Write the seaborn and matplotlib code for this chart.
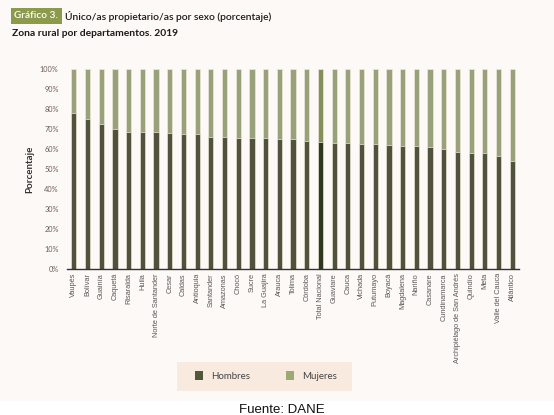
import numpy as np
import pandas as pd
import seaborn as sns
import matplotlib.pyplot as plt
from matplotlib.patches import Rectangle, Patch
from matplotlib.ticker import PercentFormatter

departamentos = ['Vaupés', 'Bolívar', 'Guainía', 'Caquetá', 'Risaralda', 'Huila',
                 'Norte de Santander', 'Cesar', 'Caldas', 'Antioquia', 'Santander',
                 'Amazonas', 'Chocó', 'Sucre', 'La Guajira', 'Arauca', 'Tolima',
                 'Córdoba', 'Total Nacional', 'Guaviare', 'Cauca', 'Vichada',
                 'Putumayo', 'Boyacá', 'Magdalena', 'Nariño', 'Casanare',
                 'Cundinamarca', 'Archipiélago de San Andrés', 'Quindío', 'Meta',
                 'Valle del Cauca', 'Atlántico']
hombres = [78.3, 75.0, 72.8, 70.2, 68.8, 68.5, 68.5, 68.0, 67.5, 67.5, 66.3,
           66.2, 65.8, 65.8, 65.5, 65.3, 64.9, 64.2, 63.7, 63.2, 63.2, 62.8,
           62.5, 62.3, 61.8, 61.8, 61.0, 60.2, 58.8, 58.3, 58.0, 56.6, 54.3]
mujeres = [100 - h for h in hombres]

df = pd.DataFrame({'dep': departamentos, 'Hombres': hombres, 'Mujeres': mujeres})
df['total'] = df['Hombres'] + df['Mujeres']

c_h, c_m = '#545639', '#9da873'
c_h_tot, c_m_tot = '#323b1d', '#8a9850'
pal_h = [c_h_tot if d == 'Total Nacional' else c_h for d in departamentos]
pal_m = [c_m_tot if d == 'Total Nacional' else c_m for d in departamentos]

bg = '#fdf9f6'
sns.set_style('white')
plt.rcParams['font.family'] = ['Lato', 'DejaVu Sans']

fig = plt.figure(figsize=(5.54, 4.15), dpi=100, facecolor=bg)
ax = fig.add_axes([0.121, 0.352, 0.816, 0.481])
ax.set_facecolor(bg)

# stacked: total (mujeres on top) first, then hombres
sns.barplot(data=df, x='dep', y='total', hue='dep', palette=pal_m, legend=False,
            width=0.38, edgecolor='#ece8dc', linewidth=0.5, ax=ax)
sns.barplot(data=df, x='dep', y='Hombres', hue='dep', palette=pal_h, legend=False,
            width=0.38, edgecolor='#ece8dc', linewidth=0.5, ax=ax)

ax.set_ylim(0, 100)
ax.set_xlim(-0.5, len(departamentos) - 0.5)
ax.set_yticks(np.arange(0, 101, 10))
ax.yaxis.set_major_formatter(PercentFormatter(decimals=0))
ax.tick_params(axis='y', labelsize=5.3, colors='#6e5d55', length=0, pad=6)
ax.tick_params(axis='x', labelsize=5.3, colors='#595959', length=0, pad=3, rotation=90)
for lab in ax.get_xticklabels():
    lab.set_family(['Liberation Sans', 'DejaVu Sans'])
ax.set_xlabel('')
ax.set_ylabel('Porcentaje', fontsize=7, fontweight='bold', color='#333333', labelpad=4)
for s in ['top', 'right', 'left']:
    ax.spines[s].set_visible(False)
ax.spines['bottom'].set_color('#333333')
ax.spines['bottom'].set_linewidth(1)

# title
fig.text(0.026, 1 - 16 / 415, 'Gráfico 3.', fontsize=7.3, color='white', va='center',
         fontweight='semibold',
         bbox=dict(boxstyle='square,pad=0.35', facecolor='#8c9a4c', edgecolor='none'))
fig.text(0.118, 1 - 16 / 415, 'Único/as propietario/as por sexo (porcentaje)',
         fontsize=7.4, color='#1a1a1a', va='center', fontweight='semibold')
fig.text(0.022, 1 - 33 / 415, 'Zona rural por departamentos. 2019',
         fontsize=7.4, color='#1a1a1a', va='center', fontweight='bold')

# legend box
fig.patches.append(Rectangle((177 / 554, 1 - 391 / 415), 175 / 554, 29 / 415,
                             transform=fig.transFigure, facecolor='#f8eadf',
                             edgecolor='none', zorder=0))
handles = [Patch(facecolor=c_h, edgecolor='none', label='Hombres'),
           Patch(facecolor=c_m, edgecolor='none', label='Mujeres')]
fig.legend(handles=handles, loc='center', bbox_to_anchor=(266 / 554, 1 - 376 / 415),
           ncol=2, frameon=False, fontsize=7, handlelength=0.85, handleheight=1.1,
           columnspacing=3.6, handletextpad=0.9, labelcolor='#444444')

# white strip with source
fig.patches.append(Rectangle((0, 0), 1, 14 / 415, transform=fig.transFigure,
                             facecolor='white', edgecolor='none', zorder=0))
fig.text(282 / 554, 1 - 410 / 415, 'Fuente: DANE', fontsize=9.5, ha='center',
         va='center', color='#111111', family=['Liberation Sans', 'DejaVu Sans'])

fig.savefig('out.png', dpi=100, facecolor=bg)
